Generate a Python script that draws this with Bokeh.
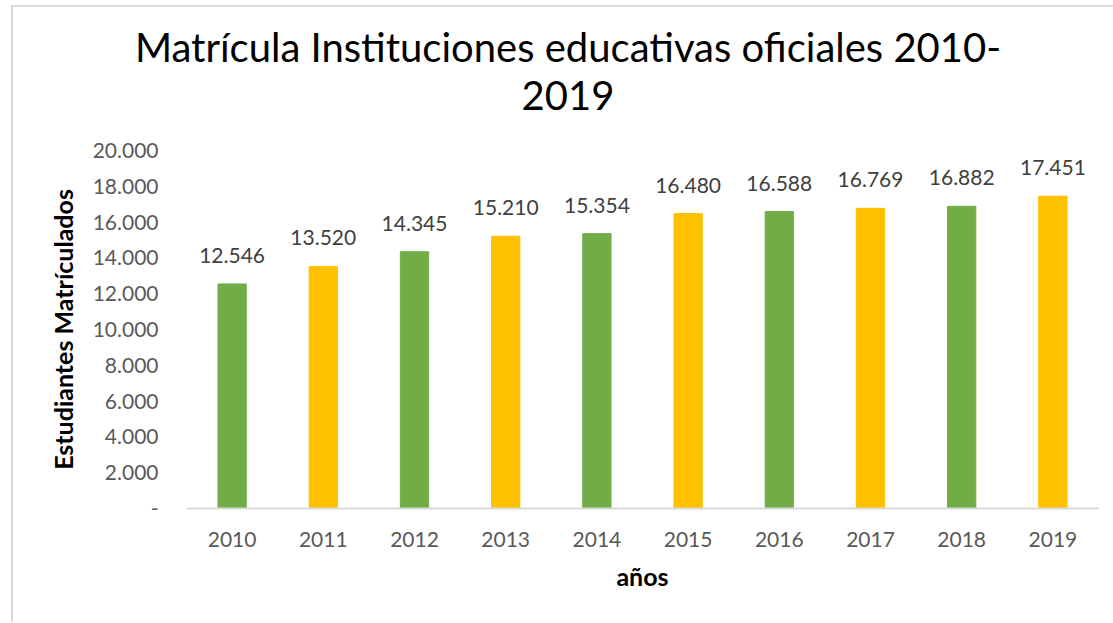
from bokeh.plotting import figure
from bokeh.models import ColumnDataSource, LabelSet, Range1d, FixedTicker, Div
from bokeh.layouts import column
from bokeh.core.properties import value
from bokeh.embed import file_html
from bokeh.resources import INLINE

# ---- data ----
years = [2010, 2011, 2012, 2013, 2014, 2015, 2016, 2017, 2018, 2019]
students = [12546, 13520, 14345, 15210, 15354, 16480, 16588, 16769, 16882, 17451]
value_labels = ["12.546", "13.520", "14.345", "15.210", "15.354",
                "16.480", "16.588", "16.769", "16.882", "17.451"]
bar_colors = ["#70AD47", "#FFC000", "#70AD47", "#FFC000", "#70AD47",
              "#FFC000", "#70AD47", "#FFC000", "#70AD47", "#FFC000"]
y_ticks = [0, 2000, 4000, 6000, 8000, 10000, 12000, 14000, 16000, 18000, 20000]
y_tick_labels = ["-", "2.000", "4.000", "6.000", "8.000", "10.000",
                 "12.000", "14.000", "16.000", "18.000", "20.000"]
title_lines = ["Matrícula Instituciones educativas oficiales 2010-", "2019"]
x_title = "años"
y_title = "Estudiantes Matrículados"

FONT = "Lato"

src = ColumnDataSource(dict(x=years, y=students, lab=value_labels, color=bar_colors))

title_div = Div(text=title_lines[0] + "<br>" + title_lines[1], width=1100, height=118,
                styles={"font-family": FONT, "font-size": "40px", "line-height": "48px",
                        "text-align": "center", "color": "#000000",
                        "padding-top": "11px", "padding-left": "0px",
                        "box-sizing": "border-box", "width": "1100px"})

p = figure(width=1100, height=487, output_backend="svg", toolbar_location=None,
           x_range=Range1d(2009.5, 2019.5), y_range=Range1d(0, 20000),
           min_border_left=173, min_border_right=15, min_border_top=15,
           min_border_bottom=114)
p.outline_line_color = None
p.xgrid.grid_line_color = None
p.ygrid.grid_line_color = None
p.background_fill_color = "white"
p.border_fill_color = "white"

p.vbar(x="x", top="y", width=0.31, color="color", source=src)

labels = LabelSet(x="x", y="y", text="lab", source=src, text_align="center",
                  text_baseline="bottom", y_offset=21, text_font=value(FONT),
                  text_font_size="21px", text_color="#404040")
p.add_layout(labels)

# x axis
xa = p.xaxis[0]
xa.ticker = FixedTicker(ticks=years)
xa.axis_line_color = "#d9d9d9"
xa.axis_line_width = 2
xa.major_tick_line_color = None
xa.minor_tick_line_color = None
xa.major_label_text_font = FONT
xa.major_label_text_font_size = "21px"
xa.major_label_text_color = "#595959"
xa.major_label_standoff = 17
xa.axis_label = x_title
xa.axis_label_text_font = FONT
xa.axis_label_text_font_size = "25px"
xa.axis_label_text_font_style = "bold"
xa.axis_label_text_color = "#000000"
xa.axis_label_standoff = 11

# y axis
ya = p.yaxis[0]
ya.ticker = FixedTicker(ticks=y_ticks)
ya.major_label_overrides = {t: l for t, l in zip(y_ticks, y_tick_labels)}
ya.axis_line_color = None
ya.major_tick_line_color = None
ya.minor_tick_line_color = None
ya.major_label_text_font = FONT
ya.major_label_text_font_size = "21px"
ya.major_label_text_color = "#595959"
ya.major_label_standoff = 22
ya.axis_label = y_title
ya.axis_label_text_font = FONT
ya.axis_label_text_font_size = "25px"
ya.axis_label_text_font_style = "bold"
ya.axis_label_text_color = "#000000"
ya.axis_label_standoff = 12

layout = column(title_div, p, spacing=0,
                styles={"margin-left": "11px", "margin-top": "5px",
                        "border-left": "2px solid #d9d9d9",
                        "border-top": "2px solid #d9d9d9"})
open("out.html", "w").write(file_html(layout, INLINE))
